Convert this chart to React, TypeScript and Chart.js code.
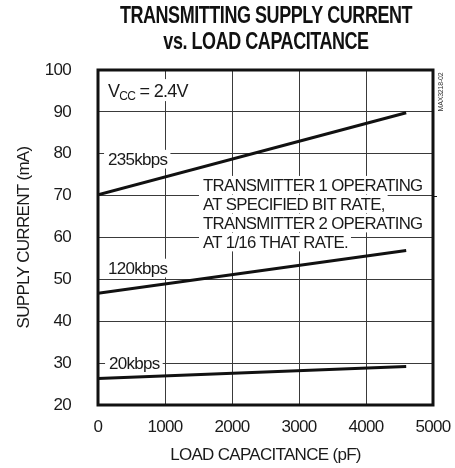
import React, { useEffect, useRef } from 'react';
import { Chart, registerables } from 'chart.js';

Chart.register(...registerables);

// ---- data ----
const capacitancePF = [0, 4600];
const current235kbps = [70.2, 89.8];
const current120kbps = [46.7, 56.9];
const current20kbps = [26.3, 29.2];
const xTickValues = [0, 1000, 2000, 3000, 4000, 5000];
const yTickValues = [20, 30, 40, 50, 60, 70, 80, 90, 100];
const seriesNames = ['235kbps', '120kbps', '20kbps'];
const titleLines = ['TRANSMITTING SUPPLY CURRENT', 'vs. LOAD CAPACITANCE'];
const noteLines = [
  'TRANSMITTER 1 OPERATING',
  'AT SPECIFIED BIT RATE,',
  'TRANSMITTER 2 OPERATING',
  'AT 1/16 THAT RATE.',
];
const xAxisTitle = 'LOAD CAPACITANCE (pF)';
const yAxisTitle = 'SUPPLY CURRENT (mA)';
const figureId = 'MAX3218-02';

const FAMILY = "'Liberation Sans', Arial, sans-serif";
const TEXT = '#1a1a1a';
const GRID = '#3a3a3a';
const LS = '-0.7px';

const setSpacing = (ctx: any, v: string) => {
  try {
    ctx.letterSpacing = v;
  } catch (e) {
    /* ignore */
  }
};

const overlayPlugin = {
  id: 'overlay',
  beforeLayout(chart: any) {
    setSpacing(chart.ctx, LS);
  },
  beforeDraw(chart: any) {
    setSpacing(chart.ctx, LS);
  },
  beforeDatasetsDraw(chart: any) {
    const ctx = chart.ctx as CanvasRenderingContext2D;
    const xs = chart.scales.x;
    const ys = chart.scales.y;
    const box = (text: string, px: number, py: number, size: number) => {
      ctx.font = `${size}px ${FAMILY}`;
      const w = ctx.measureText(text).width;
      ctx.fillStyle = '#fff';
      ctx.fillRect(px - 4, py - size * 0.55, w + 7, size * 1.1);
      ctx.fillStyle = TEXT;
      ctx.textAlign = 'left';
      ctx.textBaseline = 'middle';
      ctx.fillText(text, px, py + 1);
    };
    ctx.save();
    setSpacing(ctx, LS);
    // series labels
    box(seriesNames[0], xs.getPixelForValue(150), ys.getPixelForValue(78.7), 17);
    box(seriesNames[1], xs.getPixelForValue(150), ys.getPixelForValue(52.7), 17);
    box(seriesNames[2], xs.getPixelForValue(165), ys.getPixelForValue(30.0), 17);
    // note block
    const nx = xs.getPixelForValue(1567);
    const ny = ys.getPixelForValue(72.5);
    noteLines.forEach((t, i) => box(t, nx, ny + i * 19, 16.8));
    // Vcc label
    const vx = xs.getPixelForValue(150);
    const vy = ys.getPixelForValue(95.2);
    ctx.font = `18px ${FAMILY}`;
    const wV = ctx.measureText('V').width;
    ctx.font = `12px ${FAMILY}`;
    const wCC = ctx.measureText('CC').width;
    ctx.font = `18px ${FAMILY}`;
    const wRest = ctx.measureText(' = 2.4V').width;
    ctx.fillStyle = '#fff';
    ctx.fillRect(vx - 4, vy - 11, wV + wCC + wRest + 8, 22);
    ctx.fillStyle = TEXT;
    ctx.textBaseline = 'alphabetic';
    ctx.textAlign = 'left';
    ctx.font = `18px ${FAMILY}`;
    ctx.fillText('V', vx, vy + 7);
    ctx.font = `12px ${FAMILY}`;
    ctx.fillText('CC', vx + wV, vy + 9.5);
    ctx.font = `18px ${FAMILY}`;
    ctx.fillText(' = 2.4V', vx + wV + wCC, vy + 7);
    ctx.restore();
  },
  afterDraw(chart: any) {
    const ctx = chart.ctx as CanvasRenderingContext2D;
    const a = chart.chartArea;
    const ys = chart.scales.y;
    ctx.save();
    ctx.strokeStyle = '#111';
    ctx.lineWidth = 3;
    ctx.strokeRect(a.left, a.top, a.right - a.left, a.bottom - a.top);
    // small outside tick at 70 on the right edge
    ctx.lineWidth = 1;
    const y70 = Math.round(ys.getPixelForValue(70)) + 0.5;
    ctx.beginPath();
    ctx.moveTo(a.right, y70);
    ctx.lineTo(a.right + 4, y70);
    ctx.stroke();
    // title
    ctx.fillStyle = '#111';
    ctx.textAlign = 'center';
    ctx.textBaseline = 'middle';
    ctx.font = `bold 18px ${FAMILY}`;
    setSpacing(ctx, '-0.45px');
    const cx = 266;
    [16.5, 43].forEach((y, i) => {
      ctx.save();
      ctx.translate(cx, y);
      ctx.scale(1, 1.3);
      ctx.fillText(titleLines[i], 0, 0);
      ctx.restore();
    });
    // figure id
    ctx.save();
    ctx.translate(a.right + 8, a.top + 22);
    ctx.rotate(-Math.PI / 2);
    ctx.font = `7px ${FAMILY}`;
    setSpacing(ctx, '-0.2px');
    ctx.fillStyle = '#333';
    ctx.textAlign = 'center';
    ctx.textBaseline = 'middle';
    ctx.fillText(figureId, 0, 0);
    ctx.restore();
    ctx.restore();
  },
};

export default function App() {
  const canvasRef = useRef<HTMLCanvasElement | null>(null);

  useEffect(() => {
    document.body.style.margin = '0';
    const canvas = canvasRef.current;
    if (!canvas) return;
    const tickFont = { family: FAMILY, size: 17 };
    const lineStyle = { borderColor: '#111', borderWidth: 3, pointRadius: 0, fill: false, tension: 0 };
    const chart = new Chart(canvas, {
      type: 'line',
      data: {
        datasets: [
          { label: seriesNames[0], data: capacitancePF.map((x, i) => ({ x, y: current235kbps[i] })), ...lineStyle },
          { label: seriesNames[1], data: capacitancePF.map((x, i) => ({ x, y: current120kbps[i] })), ...lineStyle },
          { label: seriesNames[2], data: capacitancePF.map((x, i) => ({ x, y: current20kbps[i] })), ...lineStyle },
        ],
      },
      options: {
        responsive: false,
        animation: false,
        layout: { padding: { top: 70, right: 22, left: 0, bottom: 0 } },
        plugins: {
          legend: { display: false },
          title: { display: false },
          tooltip: { enabled: false },
        },
        scales: {
          x: {
            type: 'linear',
            min: 0,
            max: 5000,
            afterBuildTicks: (s: any) => {
              s.ticks = xTickValues.map((v) => ({ value: v }));
            },
            afterFit: (s: any) => {
              s.height = 63;
              s.paddingRight = 0;
              s.paddingLeft = 0;
            },
            grid: { color: GRID, lineWidth: 1, drawTicks: false },
            border: { display: false },
            ticks: {
              font: tickFont,
              color: TEXT,
              padding: 12,
              maxRotation: 0,
              autoSkip: false,
              callback: (v: any) => String(v),
            },
            title: {
              display: true,
              text: xAxisTitle,
              font: { family: FAMILY, size: 17 },
              color: TEXT,
              padding: { top: 0, bottom: 2 },
            },
          },
          y: {
            type: 'linear',
            min: 20,
            max: 100,
            afterBuildTicks: (s: any) => {
              s.ticks = yTickValues.map((v) => ({ value: v }));
            },
            afterFit: (s: any) => {
              s.width = 98;
              s.paddingTop = 0;
              s.paddingBottom = 0;
            },
            grid: { color: GRID, lineWidth: 1, drawTicks: false },
            border: { display: false },
            ticks: {
              font: tickFont,
              color: TEXT,
              padding: 27,
              autoSkip: false,
              callback: (v: any) => String(v),
            },
            title: {
              display: true,
              text: yAxisTitle,
              font: { family: FAMILY, size: 17 },
              color: TEXT,
              padding: { top: 14, bottom: 0 },
            },
          },
        },
      } as any,
      plugins: [overlayPlugin],
    });
    return () => chart.destroy();
  }, []);

  return (
    <div style={{ width: 455, height: 468 }}>
      <canvas ref={canvasRef} width={455} height={468} style={{ display: 'block' }} />
    </div>
  );
}
